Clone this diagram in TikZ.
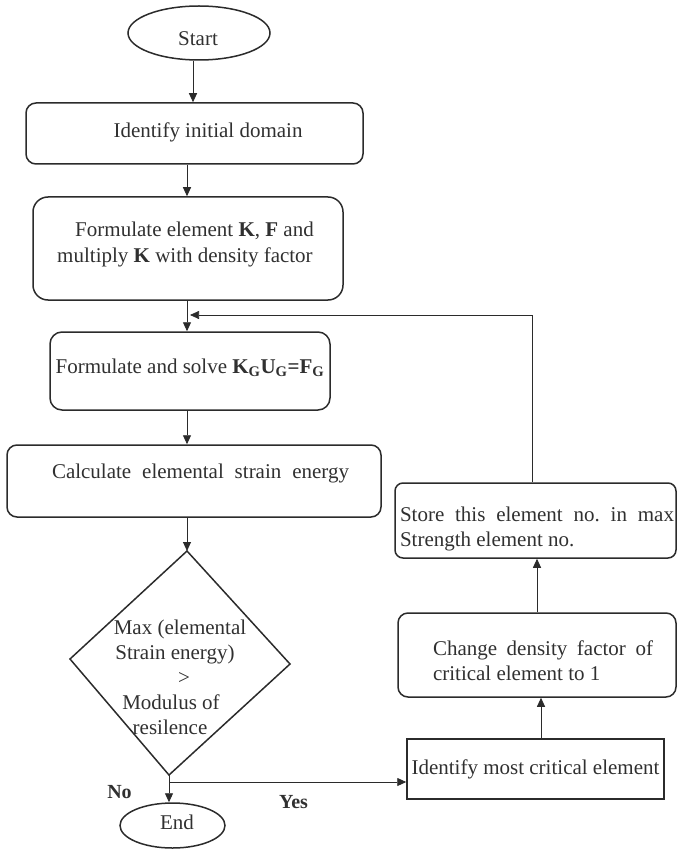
\documentclass[tikz,border=0pt]{standalone}
\usepackage{fontspec}
\setmainfont{Liberation Serif}
\usetikzlibrary{arrows.meta,shapes.geometric,calc}
\definecolor{ln}{HTML}{2B2B2B}
\definecolor{txt}{HTML}{303030}
\newcommand{\mv}[3]{\raisebox{#2}[\height][\depth]{\kern#1\relax#3\kern-#1\relax}}
\frenchspacing
\begin{document}
\begin{tikzpicture}[x=1pt,y=-1pt,
  every node/.style={font=\fontsize{21}{25}\selectfont, text=txt},
  bx/.style={draw=ln, line width=1.5pt, inner sep=0pt},
  oval/.style={ellipse, draw=ln, line width=1.5pt, inner sep=0pt},
  arr/.style={draw=ln, line width=0.9pt, -{Triangle[length=9pt,width=8pt]}},
  lbl/.style={font=\fontsize{20}{24}\selectfont\bfseries}]
\useasboundingbox (0,0) rectangle (677,850);

% main column
\node[oval, minimum width=142pt, minimum height=54pt] (start) at (199,33) {\mv{-1pt}{-6pt}{Start}};
\node[bx, rounded corners=10pt, minimum width=337pt, minimum height=61pt] (ida) at (194.5,133.5)
  {\mv{13.5pt}{1pt}{Identify initial domain}};
\node[bx, rounded corners=15pt, minimum width=310pt, minimum height=103pt] (form) at (188,248.5)
  {\mv{-2.5pt}{4pt}{\begin{tabular}{@{}l@{}}\hspace*{18pt}Formulate element \textbf{K}, \textbf{F} and\\ multiply \textbf{K} with density factor\end{tabular}}};
\node[bx, rounded corners=12pt, minimum width=280pt, minimum height=78pt] (solve) at (190,371)
  {\mv{0pt}{3pt}{Formulate and solve \textbf{K\textsubscript{G}U\textsubscript{G}=F\textsubscript{G}}}};
\node[bx, rounded corners=10pt, minimum width=374pt, minimum height=72pt] (calc) at (194,481)
  {\mv{6.5pt}{8pt}{\makebox[297pt][s]{Calculate elemental strain energy}}};

% decision
\coordinate (dtop) at (187,551);
\coordinate (dright) at (290,664);
\coordinate (dbot) at (169,775);
\coordinate (dleft) at (70,659);
\draw[ln, line width=1.5pt, line join=miter] (dtop) -- (dright) -- (dbot) -- (dleft) -- cycle;
\node[inner sep=0pt] (dec) at (176,679)
  {\begin{tabular}{@{}c@{}}\mv{4pt}{0pt}{Max (elemental}\\ \mv{-1pt}{0pt}{Strain energy)}\\ \mv{8pt}{0pt}{>}\\ \mv{-5pt}{0pt}{Modulus of}\\ \mv{-6pt}{0pt}{resilence}\end{tabular}};

\node[oval, minimum width=105pt, minimum height=45pt] (endn) at (172.5,825.5) {\mv{4.5pt}{3pt}{End}};
\node[lbl] (no) at (119.5,792) {No};
\node[lbl] (yes) at (293.5,802) {Yes};

% right column
\node[bx, minimum width=257pt, minimum height=60pt] (idc) at (535.5,769) {Identify most critical element};
\node[bx, rounded corners=10pt, minimum width=278pt, minimum height=84pt] (chg) at (537,655)
  {\mv{6pt}{-8pt}{\begin{tabular}{@{}l@{}}\makebox[220pt][s]{Change density factor of}\\ critical element to 1\end{tabular}}};
\node[bx, rounded corners=8pt, minimum width=281pt, minimum height=75pt] (sto) at (535.5,520.5)
  {\mv{1.5pt}{-8pt}{\begin{tabular}{@{}l@{}}\makebox[274pt][s]{Store this element no. in max}\\ Strength element no.\end{tabular}}};

% helper coordinates
\coordinate (x187) at (187,0);
\coordinate (x193) at (193,0);
\coordinate (x532) at (532,0);
\coordinate (x537) at (537,0);
\coordinate (x541) at (541,0);
\coordinate (fb) at (190,315);
\coordinate (ybr) at (169,782);

% connectors
\draw[arr] (start.south -| x193) -- (ida.north -| x193);
\draw[arr] (ida.south -| x187) -- (form.north -| x187);
\draw[arr] (form.south -| x187) -- (solve.north -| x187);
\draw[arr] (solve.south -| x187) -- (calc.north -| x187);
\draw[arr] (calc.south -| x187) -- (dtop);
\draw[arr] (dbot) -- (dbot |- endn.north);
\draw[arr] (ybr) -- (ybr -| idc.west);
\draw[arr] (idc.north -| x541) -- (chg.south -| x541);
\draw[arr] (chg.north -| x537) -- (sto.south -| x537);
\draw[arr, line width=0.7pt] (sto.north -| x532) |- (fb);
\end{tikzpicture}
\end{document}
